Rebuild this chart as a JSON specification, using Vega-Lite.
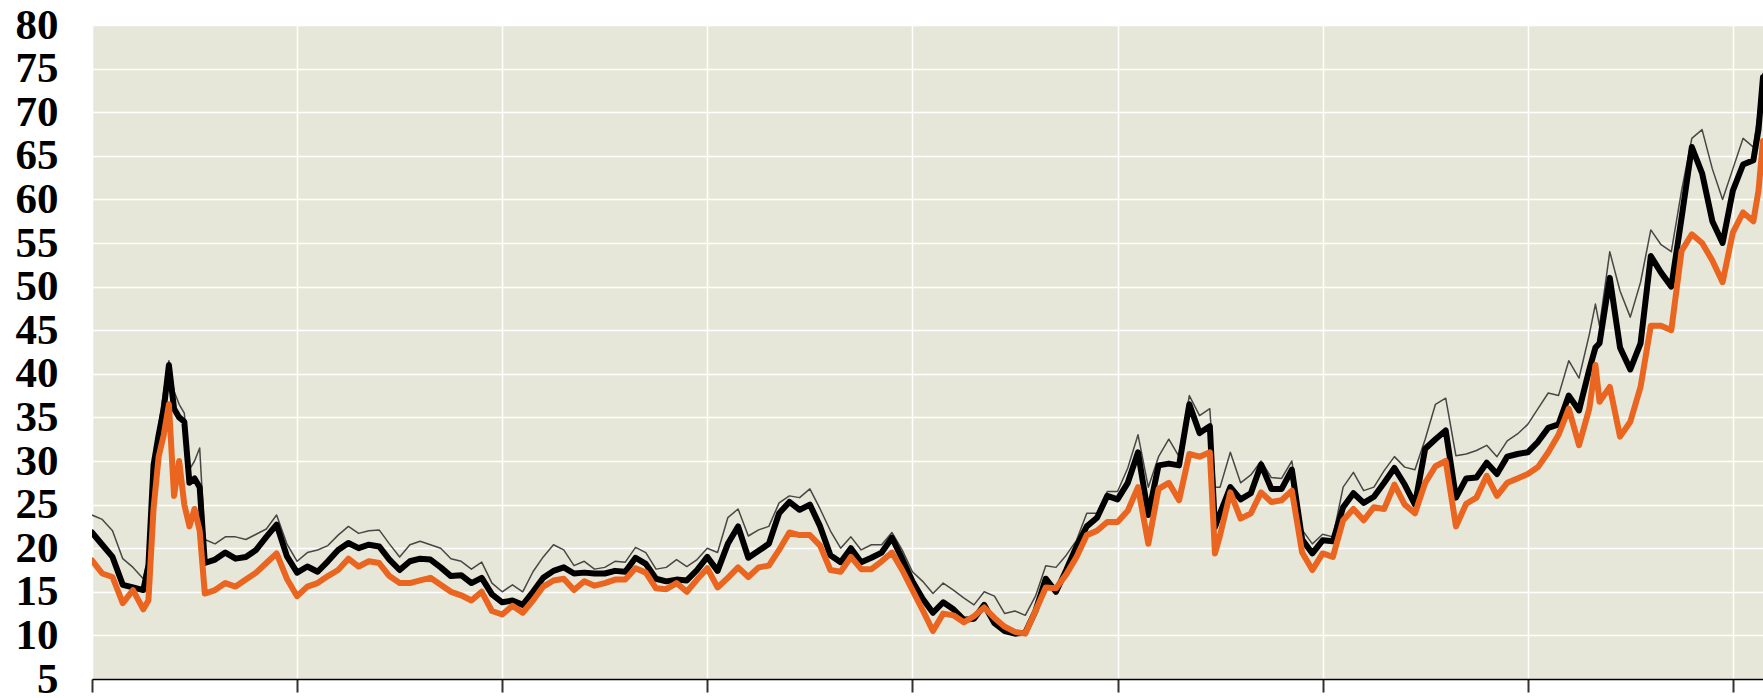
{
 "$schema": "https://vega.github.io/schema/vega-lite/v6.json",
 "width": 1671, "height": 654,
 "autosize": "none",
 "padding": {"left": 92, "top": 25, "right": 0, "bottom": 19},
 "background": "white",
 "config": {"view": {"stroke": null, "fill": "#e7e7d9"},
   "axisY": {"values": [5,10,15,20,25,30,35,40,45,50,55,60,65,70,75,80], "title": null,
              "domain": false, "ticks": false, "labelOverlap": false, "labelFlush": false,
              "labelFont": "Liberation Serif", "labelFontWeight": "bold", "labelFontSize": 43,
              "labelColor": "#000000", "labelPadding": 34,
              "grid": true, "gridColor": "#ffffff", "gridWidth": 1.5}},
 "data": {"values": [
  {"t":0,"o":18.6,"b":21.8,"u":23.8},
  {"t":0.05,"o":17.1,"b":20.4,"u":23.3},
  {"t":0.10,"o":16.7,"b":19.0,"u":22.0},
  {"t":0.15,"o":13.7,"b":15.8,"u":18.8},
  {"t":0.20,"o":15.2,"b":15.5,"u":17.8},
  {"t":0.25,"o":13.0,"b":15.2,"u":16.5},
  {"t":0.275,"o":14.0,"b":18.0,"u":19.0},
  {"t":0.30,"o":24.5,"b":29.5,"u":30.0},
  {"t":0.325,"o":30.5,"b":33.0,"u":34.0},
  {"t":0.35,"o":33.0,"b":36.0,"u":38.0},
  {"t":0.375,"o":36.5,"b":41.0,"u":41.5},
  {"t":0.40,"o":26.0,"b":36.0,"u":38.0},
  {"t":0.425,"o":30.0,"b":35.0,"u":36.5},
  {"t":0.45,"o":25.0,"b":34.5,"u":35.5},
  {"t":0.475,"o":22.5,"b":27.5,"u":29.0},
  {"t":0.50,"o":24.5,"b":28.0,"u":30.0},
  {"t":0.525,"o":22.0,"b":27.0,"u":31.5},
  {"t":0.55,"o":14.8,"b":18.3,"u":21.0},
  {"t":0.60,"o":15.2,"b":18.7,"u":20.5},
  {"t":0.65,"o":16.0,"b":19.5,"u":21.3},
  {"t":0.70,"o":15.6,"b":18.8,"u":21.3},
  {"t":0.75,"o":16.4,"b":19.0,"u":21.0},
  {"t":0.80,"o":17.2,"b":19.8,"u":21.6},
  {"t":0.85,"o":18.3,"b":21.3,"u":22.2},
  {"t":0.90,"o":19.4,"b":22.7,"u":23.8},
  {"t":0.95,"o":16.5,"b":19.1,"u":20.5},
  {"t":1.00,"o":14.5,"b":17.2,"u":18.5},
  {"t":1.05,"o":15.6,"b":17.9,"u":19.5},
  {"t":1.10,"o":16.0,"b":17.3,"u":19.8},
  {"t":1.15,"o":16.8,"b":18.5,"u":20.3},
  {"t":1.20,"o":17.5,"b":19.8,"u":21.5},
  {"t":1.25,"o":18.8,"b":20.6,"u":22.5},
  {"t":1.30,"o":17.9,"b":20.0,"u":21.7},
  {"t":1.35,"o":18.5,"b":20.4,"u":22.0},
  {"t":1.40,"o":18.3,"b":20.2,"u":22.1},
  {"t":1.45,"o":16.8,"b":18.7,"u":20.5},
  {"t":1.50,"o":16.0,"b":17.5,"u":19.0},
  {"t":1.55,"o":16.0,"b":18.5,"u":20.4},
  {"t":1.60,"o":16.3,"b":18.8,"u":20.8},
  {"t":1.65,"o":16.6,"b":18.7,"u":20.4},
  {"t":1.70,"o":15.8,"b":17.8,"u":20.0},
  {"t":1.75,"o":15.0,"b":16.8,"u":18.8},
  {"t":1.80,"o":14.6,"b":16.9,"u":18.5},
  {"t":1.85,"o":14.0,"b":16.0,"u":17.6},
  {"t":1.90,"o":15.0,"b":16.6,"u":18.4},
  {"t":1.95,"o":12.8,"b":14.7,"u":16.0},
  {"t":2.00,"o":12.4,"b":13.8,"u":15.0},
  {"t":2.05,"o":13.4,"b":14.0,"u":15.8},
  {"t":2.10,"o":12.6,"b":13.5,"u":15.0},
  {"t":2.15,"o":14.0,"b":15.0,"u":17.3},
  {"t":2.20,"o":15.6,"b":16.6,"u":19.0},
  {"t":2.25,"o":16.3,"b":17.4,"u":20.4},
  {"t":2.30,"o":16.5,"b":17.8,"u":19.8},
  {"t":2.35,"o":15.2,"b":17.1,"u":18.0},
  {"t":2.40,"o":16.2,"b":17.2,"u":18.5},
  {"t":2.45,"o":15.7,"b":17.1,"u":17.6},
  {"t":2.50,"o":16.0,"b":17.1,"u":17.8},
  {"t":2.55,"o":16.4,"b":17.4,"u":18.5},
  {"t":2.60,"o":16.4,"b":17.3,"u":18.4},
  {"t":2.65,"o":17.7,"b":18.9,"u":20.1},
  {"t":2.70,"o":17.2,"b":18.2,"u":19.5},
  {"t":2.75,"o":15.4,"b":16.5,"u":17.6},
  {"t":2.80,"o":15.3,"b":16.2,"u":17.8},
  {"t":2.85,"o":16.0,"b":16.4,"u":18.7},
  {"t":2.90,"o":15.0,"b":16.3,"u":17.9},
  {"t":2.95,"o":16.4,"b":17.5,"u":18.7},
  {"t":3.00,"o":17.7,"b":19.0,"u":20.0},
  {"t":3.05,"o":15.5,"b":17.4,"u":19.5},
  {"t":3.10,"o":16.6,"b":20.5,"u":23.5},
  {"t":3.15,"o":17.8,"b":22.5,"u":24.5},
  {"t":3.20,"o":16.7,"b":18.9,"u":21.4},
  {"t":3.25,"o":17.8,"b":19.7,"u":22.1},
  {"t":3.30,"o":18.0,"b":20.5,"u":22.5},
  {"t":3.35,"o":19.8,"b":24.0,"u":25.2},
  {"t":3.40,"o":21.8,"b":25.3,"u":26.0},
  {"t":3.45,"o":21.5,"b":24.4,"u":25.8},
  {"t":3.50,"o":21.5,"b":25.0,"u":26.8},
  {"t":3.55,"o":20.3,"b":22.5,"u":24.5},
  {"t":3.60,"o":17.5,"b":19.2,"u":22.0},
  {"t":3.65,"o":17.3,"b":18.4,"u":20.0},
  {"t":3.70,"o":19.0,"b":20.0,"u":21.3},
  {"t":3.75,"o":17.6,"b":18.4,"u":19.8},
  {"t":3.80,"o":17.6,"b":18.9,"u":20.4},
  {"t":3.85,"o":18.5,"b":19.5,"u":20.4},
  {"t":3.90,"o":19.5,"b":21.2,"u":21.8},
  {"t":3.95,"o":17.5,"b":18.8,"u":19.8},
  {"t":4.00,"o":15.2,"b":16.2,"u":17.3},
  {"t":4.05,"o":12.9,"b":14.2,"u":16.2},
  {"t":4.10,"o":10.5,"b":12.6,"u":14.8},
  {"t":4.15,"o":12.5,"b":13.8,"u":16.0},
  {"t":4.20,"o":12.3,"b":13.0,"u":15.2},
  {"t":4.25,"o":11.5,"b":11.8,"u":14.3},
  {"t":4.30,"o":12.2,"b":11.9,"u":13.5},
  {"t":4.35,"o":13.2,"b":13.5,"u":15.0},
  {"t":4.40,"o":12.0,"b":11.4,"u":14.5},
  {"t":4.45,"o":11.0,"b":10.5,"u":12.5},
  {"t":4.50,"o":10.4,"b":10.2,"u":12.8},
  {"t":4.55,"o":10.2,"b":10.3,"u":12.3},
  {"t":4.60,"o":12.8,"b":12.8,"u":14.5},
  {"t":4.65,"o":15.5,"b":16.5,"u":18.0},
  {"t":4.70,"o":15.4,"b":15.0,"u":17.8},
  {"t":4.75,"o":17.0,"b":17.5,"u":19.2},
  {"t":4.80,"o":19.0,"b":20.2,"u":20.9},
  {"t":4.85,"o":21.5,"b":22.5,"u":24.0},
  {"t":4.90,"o":22.0,"b":23.5,"u":24.0},
  {"t":4.95,"o":23.0,"b":26.0,"u":26.5},
  {"t":5.00,"o":23.0,"b":25.6,"u":26.5},
  {"t":5.05,"o":24.3,"b":27.5,"u":29.2},
  {"t":5.10,"o":27.0,"b":31.0,"u":33.0},
  {"t":5.15,"o":20.5,"b":23.8,"u":27.0},
  {"t":5.20,"o":26.8,"b":29.5,"u":30.5},
  {"t":5.25,"o":27.5,"b":29.7,"u":32.5},
  {"t":5.30,"o":25.5,"b":29.5,"u":30.5},
  {"t":5.35,"o":30.8,"b":36.5,"u":37.5},
  {"t":5.40,"o":30.5,"b":33.2,"u":35.2},
  {"t":5.45,"o":31.0,"b":34.0,"u":36.0},
  {"t":5.475,"o":19.4,"b":22.4,"u":27.0},
  {"t":5.50,"o":21.5,"b":24.0,"u":27.0},
  {"t":5.55,"o":26.4,"b":27.0,"u":31.0},
  {"t":5.60,"o":23.4,"b":25.6,"u":27.5},
  {"t":5.65,"o":24.0,"b":26.3,"u":28.4},
  {"t":5.70,"o":26.4,"b":29.6,"u":30.0},
  {"t":5.75,"o":25.3,"b":26.8,"u":28.1},
  {"t":5.80,"o":25.5,"b":26.8,"u":28.0},
  {"t":5.85,"o":26.6,"b":29.0,"u":30.0},
  {"t":5.90,"o":19.5,"b":21.0,"u":22.1},
  {"t":5.95,"o":17.5,"b":19.4,"u":20.5},
  {"t":6.00,"o":19.4,"b":20.9,"u":21.6},
  {"t":6.05,"o":19.0,"b":20.8,"u":21.3},
  {"t":6.10,"o":23.2,"b":24.7,"u":27.0},
  {"t":6.15,"o":24.5,"b":26.3,"u":28.7},
  {"t":6.20,"o":23.2,"b":25.2,"u":26.6},
  {"t":6.25,"o":24.7,"b":25.9,"u":27.0},
  {"t":6.30,"o":24.5,"b":27.5,"u":28.9},
  {"t":6.35,"o":27.3,"b":29.2,"u":30.5},
  {"t":6.40,"o":25.0,"b":27.3,"u":29.3},
  {"t":6.45,"o":24.0,"b":25.0,"u":29.0},
  {"t":6.50,"o":27.5,"b":31.4,"u":32.5},
  {"t":6.55,"o":29.4,"b":32.5,"u":36.5},
  {"t":6.60,"o":30.0,"b":33.5,"u":37.2},
  {"t":6.65,"o":22.5,"b":25.8,"u":30.6},
  {"t":6.70,"o":25.1,"b":28.0,"u":30.8},
  {"t":6.75,"o":25.8,"b":28.1,"u":31.2},
  {"t":6.80,"o":28.3,"b":29.8,"u":31.8},
  {"t":6.85,"o":26.0,"b":28.5,"u":30.5},
  {"t":6.90,"o":27.5,"b":30.5,"u":32.3},
  {"t":6.95,"o":28.0,"b":30.8,"u":33.1},
  {"t":7.00,"o":28.5,"b":31.0,"u":34.2},
  {"t":7.05,"o":29.3,"b":32.2,"u":36.0},
  {"t":7.10,"o":31.0,"b":33.8,"u":37.8},
  {"t":7.15,"o":33.0,"b":34.2,"u":37.5},
  {"t":7.20,"o":36.0,"b":37.5,"u":41.5},
  {"t":7.25,"o":31.8,"b":35.8,"u":39.5},
  {"t":7.30,"o":36.0,"b":40.5,"u":44.5},
  {"t":7.33,"o":41.0,"b":43.0,"u":48.0},
  {"t":7.35,"o":36.8,"b":43.5,"u":45.5},
  {"t":7.40,"o":38.5,"b":51.0,"u":54.0},
  {"t":7.45,"o":32.8,"b":43.0,"u":49.5},
  {"t":7.50,"o":34.5,"b":40.5,"u":46.5},
  {"t":7.55,"o":38.5,"b":43.5,"u":50.5},
  {"t":7.60,"o":45.5,"b":53.5,"u":56.5},
  {"t":7.65,"o":45.5,"b":51.6,"u":54.8},
  {"t":7.70,"o":45.0,"b":50.0,"u":54.0},
  {"t":7.75,"o":54.1,"b":57.9,"u":61.0},
  {"t":7.80,"o":56.0,"b":66.0,"u":67.0},
  {"t":7.85,"o":55.0,"b":63.0,"u":68.0},
  {"t":7.90,"o":53.0,"b":57.5,"u":63.5},
  {"t":7.95,"o":50.5,"b":55.0,"u":60.0},
  {"t":8.00,"o":56.2,"b":61.0,"u":63.5},
  {"t":8.05,"o":58.5,"b":64.0,"u":67.0},
  {"t":8.10,"o":57.5,"b":64.5,"u":66.0},
  {"t":8.125,"o":61.0,"b":68.0,"u":70.0},
  {"t":8.147,"o":66.7,"b":74.0,"u":74.5}
 ]},
 "encoding": {
  "x": {"field": "t", "type": "quantitative",
        "scale": {"domain": [0, 8.147], "nice": false, "zero": false},
        "axis": {"values": [0,1,2,3,4,5,6,7,8], "labels": false, "title": null,
                 "domainColor": "#000000", "domainWidth": 1.5,
                 "tickColor": "#333333", "tickWidth": 2, "tickSize": 13,
                 "grid": true, "gridColor": "#ffffff", "gridWidth": 1.5}}
 },
 "layer": [
  {"mark": {"type": "line", "color": "#2a2a2a", "strokeWidth": 1.5, "opacity": 0.85, "clip": true, "strokeJoin": "round"},
   "encoding": {"y": {"field": "u", "type": "quantitative", "title": null,
     "scale": {"domain": [5, 80], "nice": false, "zero": false}}}},
  {"mark": {"type": "line", "color": "#000000", "strokeWidth": 6, "clip": true, "strokeJoin": "round", "strokeCap": "round"},
   "encoding": {"y": {"field": "b", "type": "quantitative", "title": null, "scale": {"domain": [5, 80], "nice": false, "zero": false}}}},
  {"mark": {"type": "line", "color": "#ea6520", "strokeWidth": 6, "clip": true, "strokeJoin": "round", "strokeCap": "round"},
   "encoding": {"y": {"field": "o", "type": "quantitative", "title": null, "scale": {"domain": [5, 80], "nice": false, "zero": false}}}}
 ]
}
